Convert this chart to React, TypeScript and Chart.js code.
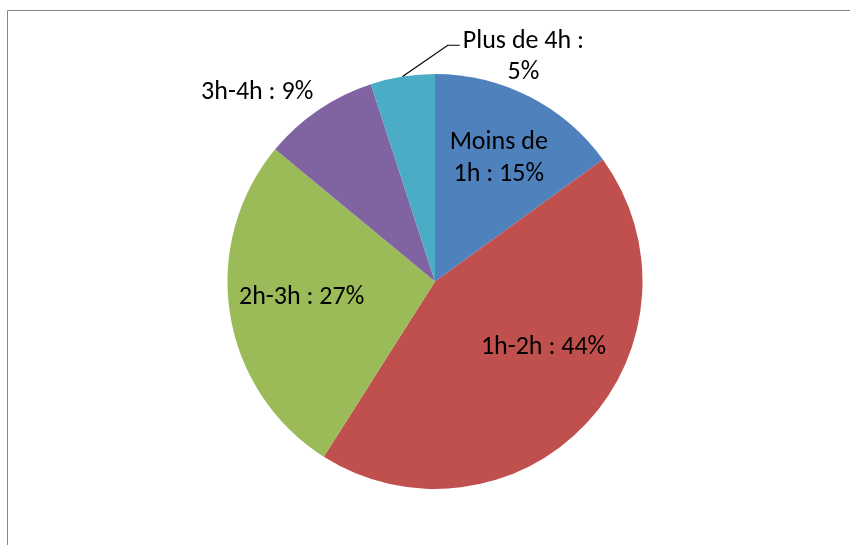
import React, { useEffect, useRef } from "react";
import { Chart, registerables } from "chart.js";

Chart.register(...registerables);

const categories = ["Moins de 1h", "1h-2h", "2h-3h", "3h-4h", "Plus de 4h"];
const values = [15, 44, 27, 9, 5];
const labelLines = [
  ["Moins de", "1h : 15%"],
  ["1h-2h : 44%"],
  ["2h-3h : 27%"],
  ["3h-4h : 9%"],
  ["Plus de 4h :", "5%"],
];
const colors = ["#4F81BD", "#C0504D", "#9BBB59", "#8064A2", "#4BACC6"];

// label placement: polar position (degrees clockwise from top, fraction of radius)
const labelPlacement = [
  { angle: 26.9, frac: 0.679, leader: false },
  { angle: 120.5, frac: 0.607, leader: false },
  { angle: 264.1, frac: 0.646, leader: false },
  { angle: 317.1, frac: 1.259, leader: false },
  { angle: 21.3, frac: 1.173, leader: true },
];

const FONT = "26px Carlito, Calibri, Lato, sans-serif";
const LINE_H = 31.5;
const CAP = 18;

const framePlugin = {
  id: "frame",
  beforeDraw(chart: any) {
    const ctx = chart.ctx;
    ctx.save();
    ctx.fillStyle = "#ffffff";
    ctx.fillRect(0, 0, chart.width, chart.height);
    ctx.strokeStyle = "#878787";
    ctx.lineWidth = 1;
    ctx.beginPath();
    ctx.moveTo(chart.width, 10.5);
    ctx.lineTo(7.5, 10.5);
    ctx.lineTo(7.5, chart.height);
    ctx.stroke();
    ctx.restore();
  },
};

const labelPlugin = {
  id: "pieLabels",
  afterDatasetsDraw(chart: any) {
    const ctx = chart.ctx;
    const meta = chart.getDatasetMeta(0);
    ctx.save();
    ctx.font = FONT;
    ctx.fillStyle = "#000000";
    ctx.textAlign = "center";
    ctx.textBaseline = "alphabetic";
    meta.data.forEach((arc: any, i: number) => {
      const { x, y, outerRadius, startAngle, endAngle } = arc.getProps(
        ["x", "y", "outerRadius", "startAngle", "endAngle"],
        true
      );
      const p = labelPlacement[i];
      const a = ((p.angle - 90) * Math.PI) / 180;
      const cx = x + Math.cos(a) * outerRadius * p.frac;
      const cy = y + Math.sin(a) * outerRadius * p.frac;
      const lines = labelLines[i];
      const n = lines.length;
      let maxW = 0;
      lines.forEach((t, k) => {
        const mid = cy + (k - (n - 1) / 2) * LINE_H;
        ctx.fillText(t, cx, mid + CAP / 2);
        maxW = Math.max(maxW, ctx.measureText(t).width);
      });
      if (p.leader) {
        const mA = (startAngle + endAngle) / 2;
        const sx = x + Math.cos(mA) * outerRadius;
        const sy = y + Math.sin(mA) * outerRadius;
        const ex = cx - maxW / 2 - 3;
        const ey = cy - 9.5;
        ctx.strokeStyle = "#000000";
        ctx.lineWidth = 1.2;
        ctx.beginPath();
        ctx.moveTo(sx, sy);
        ctx.lineTo(ex - 12, ey);
        ctx.lineTo(ex, ey);
        ctx.stroke();
      }
    });
    ctx.restore();
  },
};

export default function App() {
  const ref = useRef<HTMLCanvasElement | null>(null);
  useEffect(() => {
    if (!ref.current) return;
    const chart = new Chart(ref.current, {
      type: "pie",
      data: {
        labels: categories,
        datasets: [
          {
            data: values,
            backgroundColor: colors,
            borderWidth: 0,
          },
        ],
      },
      options: {
        responsive: false,
        animation: false,
        devicePixelRatio: 1,
        layout: { padding: { left: 227, right: 207, top: 74, bottom: 56 } },
        plugins: {
          legend: { display: false },
          tooltip: { enabled: false },
        },
      },
      plugins: [framePlugin, labelPlugin],
    });
    return () => chart.destroy();
  }, []);
  return (
    <div style={{ position: "fixed", left: 0, top: 0, width: 850, height: 545, background: "#fff" }}>
      <canvas ref={ref} width={850} height={545} style={{ width: 850, height: 545, display: "block" }} />
    </div>
  );
}
